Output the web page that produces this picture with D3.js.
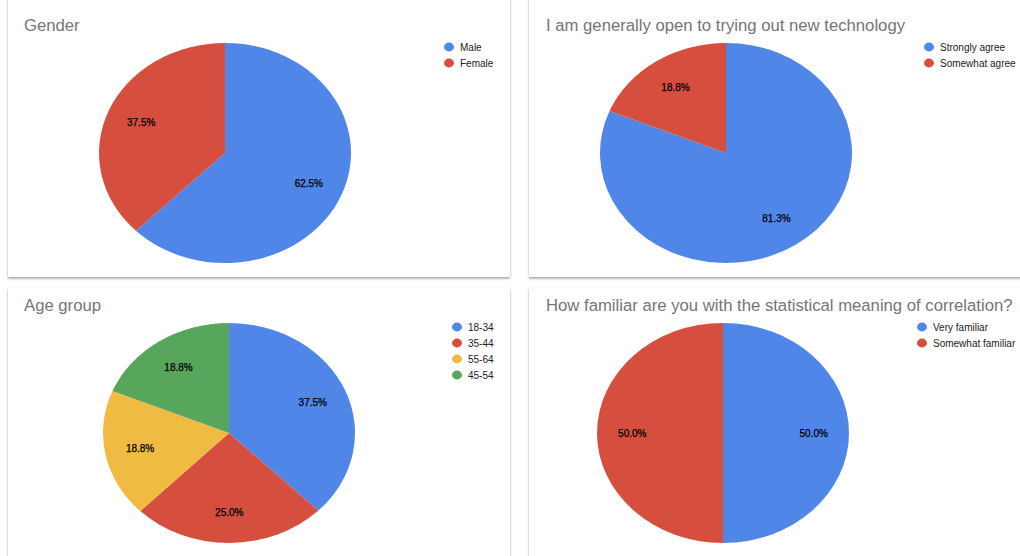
<!DOCTYPE html>
<html lang="en">
<head>
<meta charset="utf-8">
<title>Survey pies</title>
<script src="https://cdn.jsdelivr.net/npm/d3@7"></script>
<style>
  body { margin: 0; background: #ffffff; }
  svg { display: block; font-family: "Liberation Sans", Arial, sans-serif; }
</style>
</head>
<body>
<script>
// data (percent of respondents)
var genderLabels = ["Male", "Female"];
var genderValues = [62.5, 37.5];

var techLabels = ["Strongly agree", "Somewhat agree"];
var techValues = [81.3, 18.8];

var ageLabels = ["18-34", "35-44", "55-64", "45-54"];
var ageValues = [37.5, 25.0, 18.8, 18.8];

var corrLabels = ["Very familiar", "Somewhat familiar"];
var corrValues = [50.0, 50.0];

var colors = ["#5086e8", "#d64f3e", "#f0bb42", "#58a55c"];

var width = 1020, height = 556;
var rx = 126, ry = 110;

var panels = [
  { title: "Gender", labels: genderLabels, values: genderValues,
    box: [8, -20, 502, 297], tx: 24, ty: 31, cx: 225, cy: 153, lx: 449, ly: 47 },
  { title: "I am generally open to trying out new technology", labels: techLabels, values: techValues,
    box: [529, -20, 520, 297], tx: 546, ty: 31, cx: 726, cy: 153, lx: 929, ly: 47 },
  { title: "Age group", labels: ageLabels, values: ageValues,
    box: [8, 288, 502, 300], tx: 24, ty: 311, cx: 229, cy: 433, lx: 457, ly: 327 },
  { title: "How familiar are you with the statistical meaning of correlation?", labels: corrLabels, values: corrValues,
    box: [529, 288, 520, 300], tx: 546, ty: 311, cx: 723, cy: 433, lx: 922, ly: 327 }
];

var svg = d3.select("body").append("svg")
  .attr("width", width)
  .attr("height", height);

var filt = svg.append("defs").append("filter")
  .attr("id", "card")
  .attr("x", "-5%").attr("y", "-5%")
  .attr("width", "110%").attr("height", "110%");
filt.append("feDropShadow")
  .attr("dx", 0).attr("dy", 1.5)
  .attr("stdDeviation", 1.3)
  .attr("flood-color", "#000")
  .attr("flood-opacity", 0.38);

var pie = d3.pie().sort(null).value(function(d) { return d; });
var arc = d3.arc().innerRadius(0).outerRadius(rx);
var labelArc = d3.arc().innerRadius(rx * 0.72).outerRadius(rx * 0.72);
var fmt = d3.format(".1f");

panels.forEach(function(p) {
  var g = svg.append("g");

  g.append("rect")
    .attr("x", p.box[0]).attr("y", p.box[1])
    .attr("width", p.box[2]).attr("height", p.box[3])
    .attr("fill", "#fff")
    .attr("filter", "url(#card)");

  g.append("text")
    .attr("x", p.tx).attr("y", p.ty)
    .attr("font-size", 16.7)
    .attr("fill", "#757575")
    .text(p.title);

  var arcs = pie(p.values);

  // pie is a squashed circle in the reference
  var slices = g.append("g")
    .attr("transform", "translate(" + p.cx + "," + p.cy + ") scale(1," + (ry / rx) + ")");
  slices.selectAll("path")
    .data(arcs)
    .enter()
    .append("path")
    .attr("d", arc)
    .attr("fill", function(d, i) { return colors[i]; });

  g.selectAll("text.lbl")
    .data(arcs)
    .enter()
    .append("text")
    .attr("class", "lbl")
    .attr("x", function(d) { return p.cx + labelArc.centroid(d)[0]; })
    .attr("y", function(d) { return p.cy + labelArc.centroid(d)[1] * ry / rx; })
    .attr("dy", "0.35em")
    .attr("text-anchor", "middle")
    .attr("font-size", 10)
    .attr("fill", "#000")
    .attr("stroke", "#000")
    .attr("stroke-width", 0.25)
    .text(function(d) { return fmt(d.data) + "%"; });

  var leg = g.selectAll("g.leg")
    .data(p.labels)
    .enter()
    .append("g")
    .attr("class", "leg")
    .attr("transform", function(d, i) { return "translate(" + p.lx + "," + (p.ly + i * 16) + ")"; });
  leg.append("ellipse")
    .attr("rx", 5).attr("ry", 4.4)
    .attr("fill", function(d, i) { return colors[i]; });
  leg.append("text")
    .attr("x", 11)
    .attr("dy", "0.35em")
    .attr("font-size", 10)
    .attr("fill", "#222")
    .text(function(d) { return d; });
});
</script>
</body>
</html>
